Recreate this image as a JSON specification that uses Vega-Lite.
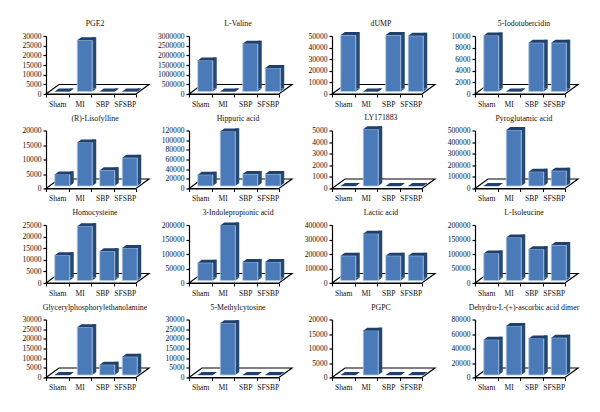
{"$schema":"https://vega.github.io/schema/vega-lite/v6.json","background":"white","padding":{"left":22,"top":20,"right":0,"bottom":0},"bounds":"flush","columns":4,"spacing":{"column":53,"row":36.5},
"config":{"view":{"stroke":null},"font":"Liberation Serif","title":{"font":"Liberation Serif","fontSize":7.8,"fontWeight":"normal","color":"#111111","offset":4,"dx":4},
"axisX":{"title":null,"labelAngle":0,"labelFontSize":7.6,"labelColor":"#111111","labelFont":"Liberation Serif","tickBand":"extent","tickSize":3,"tickColor":"#000000","domainColor":"#000000","labelPadding":3,"labelOverlap":false,"grid":false},
"axisY":{"title":null,"format":"d","labelFontSize":7.6,"labelColor":"#111111","labelFont":"Liberation Serif","tickSize":3,"tickColor":"#000000","domainColor":"#000000","tickWidth":1.2,"domainWidth":1.2,"labelPadding":2,"tickCount":5,"labelOverlap":false,"labelFlush":false,"grid":false}},
"datasets":{"rows":[
{"m":"PGE2","group":"Sham","value":0},{"m":"PGE2","group":"MI","value":26500},{"m":"PGE2","group":"SBP","value":0},{"m":"PGE2","group":"SFSBP","value":0},
{"m":"L-Valine","group":"Sham","value":1600000},{"m":"L-Valine","group":"MI","value":0},{"m":"L-Valine","group":"SBP","value":2470000},{"m":"L-Valine","group":"SFSBP","value":1220000},
{"m":"dUMP","group":"Sham","value":48600},{"m":"dUMP","group":"MI","value":0},{"m":"dUMP","group":"SBP","value":48600},{"m":"dUMP","group":"SFSBP","value":48000},
{"m":"5-Iodotubercidin","group":"Sham","value":9650},{"m":"5-Iodotubercidin","group":"MI","value":0},{"m":"5-Iodotubercidin","group":"SBP","value":8400},{"m":"5-Iodotubercidin","group":"SFSBP","value":8400},
{"m":"(R)-Lisofylline","group":"Sham","value":4000},{"m":"(R)-Lisofylline","group":"MI","value":15000},{"m":"(R)-Lisofylline","group":"SBP","value":5400},{"m":"(R)-Lisofylline","group":"SFSBP","value":9700},
{"m":"Hippuric acid","group":"Sham","value":23300},{"m":"Hippuric acid","group":"MI","value":113000},{"m":"Hippuric acid","group":"SBP","value":24700},{"m":"Hippuric acid","group":"SFSBP","value":24700},
{"m":"LY171883","group":"Sham","value":0},{"m":"LY171883","group":"MI","value":4900},{"m":"LY171883","group":"SBP","value":0},{"m":"LY171883","group":"SFSBP","value":0},
{"m":"Pyroglutamic acid","group":"Sham","value":0},{"m":"Pyroglutamic acid","group":"MI","value":483000},{"m":"Pyroglutamic acid","group":"SBP","value":123000},{"m":"Pyroglutamic acid","group":"SFSBP","value":131000},
{"m":"Homocysteine","group":"Sham","value":10900},{"m":"Homocysteine","group":"MI","value":23400},{"m":"Homocysteine","group":"SBP","value":12600},{"m":"Homocysteine","group":"SFSBP","value":14000},
{"m":"3-Indolepropionic acid","group":"Sham","value":61000},{"m":"3-Indolepropionic acid","group":"MI","value":190000},{"m":"3-Indolepropionic acid","group":"SBP","value":64000},{"m":"3-Indolepropionic acid","group":"SFSBP","value":64000},
{"m":"Lactic acid","group":"Sham","value":170000},{"m":"Lactic acid","group":"MI","value":323000},{"m":"Lactic acid","group":"SBP","value":170000},{"m":"Lactic acid","group":"SFSBP","value":170000},
{"m":"L-Isoleucine","group":"Sham","value":93000},{"m":"L-Isoleucine","group":"MI","value":148000},{"m":"L-Isoleucine","group":"SBP","value":108000},{"m":"L-Isoleucine","group":"SFSBP","value":122000},
{"m":"Glycerylphosphorylethanolamine","group":"Sham","value":0},{"m":"Glycerylphosphorylethanolamine","group":"MI","value":24700},{"m":"Glycerylphosphorylethanolamine","group":"SBP","value":5300},{"m":"Glycerylphosphorylethanolamine","group":"SFSBP","value":9400},
{"m":"5-Methylcytosine","group":"Sham","value":0},{"m":"5-Methylcytosine","group":"MI","value":26800},{"m":"5-Methylcytosine","group":"SBP","value":0},{"m":"5-Methylcytosine","group":"SFSBP","value":0},
{"m":"PGPC","group":"Sham","value":0},{"m":"PGPC","group":"MI","value":15300},{"m":"PGPC","group":"SBP","value":0},{"m":"PGPC","group":"SFSBP","value":0},
{"m":"Dehydro-L-(+)-ascorbic acid dimer","group":"Sham","value":48600},{"m":"Dehydro-L-(+)-ascorbic acid dimer","group":"MI","value":67700},{"m":"Dehydro-L-(+)-ascorbic acid dimer","group":"SBP","value":50400},{"m":"Dehydro-L-(+)-ascorbic acid dimer","group":"SFSBP","value":51400}
]},
"concat":[
{"title":"PGE2","width":90,"height":58,"data":{"name":"rows"},"transform":[{"filter":"datum.m==='PGE2'"}],"encoding":{"x":{"field":"group","type":"nominal","sort":null,"scale":{"type":"band","paddingInner":0,"paddingOuter":0}},"y":{"field":"value","type":"quantitative","scale":{"domain":[0,30000]}}},"layer":[
{"transform":[{"filter":"datum.group==='Sham'"}],"mark":{"type":"point","filled":true,"fill":"#ffffff","stroke":"#000000","strokeWidth":1.2,"opacity":1,"size":4,"shape":"M-11.25,0 L1.75,-9.5 L91.75,-9.5 L78.75,0 Z"},"encoding":{"y":{"datum":0,"type":"quantitative"}}},
{"mark":{"type":"bar","size":4,"color":"#27486f","xOffset":14.5,"yOffset":-5.5,"y2Offset":-5.5}},
{"mark":{"type":"point","filled":true,"color":"#27486f","opacity":1,"size":4,"shape":"M12.5,-2.5 L16.5,-5.5 L12.5,-5.5 Z"},"encoding":{"y":{"datum":0,"type":"quantitative"}}},
{"mark":{"type":"bar","size":15,"color":"#4a7ab8","stroke":"#a9c6ea","strokeWidth":0.8,"xOffset":5,"yOffset":-2.5,"y2Offset":-2.5}},
{"mark":{"type":"point","filled":true,"color":"#1f3f6e","opacity":1,"size":4,"shape":"M-2.5,-2.5 L1.5,-5.5 L16.5,-5.5 L12.5,-2.5 Z"}}
]},
{"title":"L-Valine","width":90,"height":58,"data":{"name":"rows"},"transform":[{"filter":"datum.m==='L-Valine'"}],"encoding":{"x":{"field":"group","type":"nominal","sort":null,"scale":{"type":"band","paddingInner":0,"paddingOuter":0}},"y":{"field":"value","type":"quantitative","scale":{"domain":[0,3000000]}}},"layer":[
{"transform":[{"filter":"datum.group==='Sham'"}],"mark":{"type":"point","filled":true,"fill":"#ffffff","stroke":"#000000","strokeWidth":1.2,"opacity":1,"size":4,"shape":"M-11.25,0 L1.75,-9.5 L91.75,-9.5 L78.75,0 Z"},"encoding":{"y":{"datum":0,"type":"quantitative"}}},
{"mark":{"type":"bar","size":4,"color":"#27486f","xOffset":14.5,"yOffset":-5.5,"y2Offset":-5.5}},
{"mark":{"type":"point","filled":true,"color":"#27486f","opacity":1,"size":4,"shape":"M12.5,-2.5 L16.5,-5.5 L12.5,-5.5 Z"},"encoding":{"y":{"datum":0,"type":"quantitative"}}},
{"mark":{"type":"bar","size":15,"color":"#4a7ab8","stroke":"#a9c6ea","strokeWidth":0.8,"xOffset":5,"yOffset":-2.5,"y2Offset":-2.5}},
{"mark":{"type":"point","filled":true,"color":"#1f3f6e","opacity":1,"size":4,"shape":"M-2.5,-2.5 L1.5,-5.5 L16.5,-5.5 L12.5,-2.5 Z"}}
]},
{"title":"dUMP","width":90,"height":58,"data":{"name":"rows"},"transform":[{"filter":"datum.m==='dUMP'"}],"encoding":{"x":{"field":"group","type":"nominal","sort":null,"scale":{"type":"band","paddingInner":0,"paddingOuter":0}},"y":{"field":"value","type":"quantitative","scale":{"domain":[0,50000]}}},"layer":[
{"transform":[{"filter":"datum.group==='Sham'"}],"mark":{"type":"point","filled":true,"fill":"#ffffff","stroke":"#000000","strokeWidth":1.2,"opacity":1,"size":4,"shape":"M-11.25,0 L1.75,-9.5 L91.75,-9.5 L78.75,0 Z"},"encoding":{"y":{"datum":0,"type":"quantitative"}}},
{"mark":{"type":"bar","size":4,"color":"#27486f","xOffset":14.5,"yOffset":-5.5,"y2Offset":-5.5}},
{"mark":{"type":"point","filled":true,"color":"#27486f","opacity":1,"size":4,"shape":"M12.5,-2.5 L16.5,-5.5 L12.5,-5.5 Z"},"encoding":{"y":{"datum":0,"type":"quantitative"}}},
{"mark":{"type":"bar","size":15,"color":"#4a7ab8","stroke":"#a9c6ea","strokeWidth":0.8,"xOffset":5,"yOffset":-2.5,"y2Offset":-2.5}},
{"mark":{"type":"point","filled":true,"color":"#1f3f6e","opacity":1,"size":4,"shape":"M-2.5,-2.5 L1.5,-5.5 L16.5,-5.5 L12.5,-2.5 Z"}}
]},
{"title":"5-Iodotubercidin","width":90,"height":58,"data":{"name":"rows"},"transform":[{"filter":"datum.m==='5-Iodotubercidin'"}],"encoding":{"x":{"field":"group","type":"nominal","sort":null,"scale":{"type":"band","paddingInner":0,"paddingOuter":0}},"y":{"field":"value","type":"quantitative","scale":{"domain":[0,10000]}}},"layer":[
{"transform":[{"filter":"datum.group==='Sham'"}],"mark":{"type":"point","filled":true,"fill":"#ffffff","stroke":"#000000","strokeWidth":1.2,"opacity":1,"size":4,"shape":"M-11.25,0 L1.75,-9.5 L91.75,-9.5 L78.75,0 Z"},"encoding":{"y":{"datum":0,"type":"quantitative"}}},
{"mark":{"type":"bar","size":4,"color":"#27486f","xOffset":14.5,"yOffset":-5.5,"y2Offset":-5.5}},
{"mark":{"type":"point","filled":true,"color":"#27486f","opacity":1,"size":4,"shape":"M12.5,-2.5 L16.5,-5.5 L12.5,-5.5 Z"},"encoding":{"y":{"datum":0,"type":"quantitative"}}},
{"mark":{"type":"bar","size":15,"color":"#4a7ab8","stroke":"#a9c6ea","strokeWidth":0.8,"xOffset":5,"yOffset":-2.5,"y2Offset":-2.5}},
{"mark":{"type":"point","filled":true,"color":"#1f3f6e","opacity":1,"size":4,"shape":"M-2.5,-2.5 L1.5,-5.5 L16.5,-5.5 L12.5,-2.5 Z"}}
]},
{"title":"(R)-Lisofylline","width":90,"height":58,"data":{"name":"rows"},"transform":[{"filter":"datum.m==='(R)-Lisofylline'"}],"encoding":{"x":{"field":"group","type":"nominal","sort":null,"scale":{"type":"band","paddingInner":0,"paddingOuter":0}},"y":{"field":"value","type":"quantitative","scale":{"domain":[0,20000]}}},"layer":[
{"transform":[{"filter":"datum.group==='Sham'"}],"mark":{"type":"point","filled":true,"fill":"#ffffff","stroke":"#000000","strokeWidth":1.2,"opacity":1,"size":4,"shape":"M-11.25,0 L1.75,-9.5 L91.75,-9.5 L78.75,0 Z"},"encoding":{"y":{"datum":0,"type":"quantitative"}}},
{"mark":{"type":"bar","size":4,"color":"#27486f","xOffset":14.5,"yOffset":-5.5,"y2Offset":-5.5}},
{"mark":{"type":"point","filled":true,"color":"#27486f","opacity":1,"size":4,"shape":"M12.5,-2.5 L16.5,-5.5 L12.5,-5.5 Z"},"encoding":{"y":{"datum":0,"type":"quantitative"}}},
{"mark":{"type":"bar","size":15,"color":"#4a7ab8","stroke":"#a9c6ea","strokeWidth":0.8,"xOffset":5,"yOffset":-2.5,"y2Offset":-2.5}},
{"mark":{"type":"point","filled":true,"color":"#1f3f6e","opacity":1,"size":4,"shape":"M-2.5,-2.5 L1.5,-5.5 L16.5,-5.5 L12.5,-2.5 Z"}}
]},
{"title":"Hippuric acid","width":90,"height":58,"data":{"name":"rows"},"transform":[{"filter":"datum.m==='Hippuric acid'"}],"encoding":{"x":{"field":"group","type":"nominal","sort":null,"scale":{"type":"band","paddingInner":0,"paddingOuter":0}},"y":{"field":"value","type":"quantitative","scale":{"domain":[0,120000]}}},"layer":[
{"transform":[{"filter":"datum.group==='Sham'"}],"mark":{"type":"point","filled":true,"fill":"#ffffff","stroke":"#000000","strokeWidth":1.2,"opacity":1,"size":4,"shape":"M-11.25,0 L1.75,-9.5 L91.75,-9.5 L78.75,0 Z"},"encoding":{"y":{"datum":0,"type":"quantitative"}}},
{"mark":{"type":"bar","size":4,"color":"#27486f","xOffset":14.5,"yOffset":-5.5,"y2Offset":-5.5}},
{"mark":{"type":"point","filled":true,"color":"#27486f","opacity":1,"size":4,"shape":"M12.5,-2.5 L16.5,-5.5 L12.5,-5.5 Z"},"encoding":{"y":{"datum":0,"type":"quantitative"}}},
{"mark":{"type":"bar","size":15,"color":"#4a7ab8","stroke":"#a9c6ea","strokeWidth":0.8,"xOffset":5,"yOffset":-2.5,"y2Offset":-2.5}},
{"mark":{"type":"point","filled":true,"color":"#1f3f6e","opacity":1,"size":4,"shape":"M-2.5,-2.5 L1.5,-5.5 L16.5,-5.5 L12.5,-2.5 Z"}}
]},
{"title":"LY171883","width":90,"height":58,"data":{"name":"rows"},"transform":[{"filter":"datum.m==='LY171883'"}],"encoding":{"x":{"field":"group","type":"nominal","sort":null,"scale":{"type":"band","paddingInner":0,"paddingOuter":0}},"y":{"field":"value","type":"quantitative","scale":{"domain":[0,5000]}}},"layer":[
{"transform":[{"filter":"datum.group==='Sham'"}],"mark":{"type":"point","filled":true,"fill":"#ffffff","stroke":"#000000","strokeWidth":1.2,"opacity":1,"size":4,"shape":"M-11.25,0 L1.75,-9.5 L91.75,-9.5 L78.75,0 Z"},"encoding":{"y":{"datum":0,"type":"quantitative"}}},
{"mark":{"type":"bar","size":4,"color":"#27486f","xOffset":14.5,"yOffset":-5.5,"y2Offset":-5.5}},
{"mark":{"type":"point","filled":true,"color":"#27486f","opacity":1,"size":4,"shape":"M12.5,-2.5 L16.5,-5.5 L12.5,-5.5 Z"},"encoding":{"y":{"datum":0,"type":"quantitative"}}},
{"mark":{"type":"bar","size":15,"color":"#4a7ab8","stroke":"#a9c6ea","strokeWidth":0.8,"xOffset":5,"yOffset":-2.5,"y2Offset":-2.5}},
{"mark":{"type":"point","filled":true,"color":"#1f3f6e","opacity":1,"size":4,"shape":"M-2.5,-2.5 L1.5,-5.5 L16.5,-5.5 L12.5,-2.5 Z"}}
]},
{"title":"Pyroglutamic acid","width":90,"height":58,"data":{"name":"rows"},"transform":[{"filter":"datum.m==='Pyroglutamic acid'"}],"encoding":{"x":{"field":"group","type":"nominal","sort":null,"scale":{"type":"band","paddingInner":0,"paddingOuter":0}},"y":{"field":"value","type":"quantitative","scale":{"domain":[0,500000]}}},"layer":[
{"transform":[{"filter":"datum.group==='Sham'"}],"mark":{"type":"point","filled":true,"fill":"#ffffff","stroke":"#000000","strokeWidth":1.2,"opacity":1,"size":4,"shape":"M-11.25,0 L1.75,-9.5 L91.75,-9.5 L78.75,0 Z"},"encoding":{"y":{"datum":0,"type":"quantitative"}}},
{"mark":{"type":"bar","size":4,"color":"#27486f","xOffset":14.5,"yOffset":-5.5,"y2Offset":-5.5}},
{"mark":{"type":"point","filled":true,"color":"#27486f","opacity":1,"size":4,"shape":"M12.5,-2.5 L16.5,-5.5 L12.5,-5.5 Z"},"encoding":{"y":{"datum":0,"type":"quantitative"}}},
{"mark":{"type":"bar","size":15,"color":"#4a7ab8","stroke":"#a9c6ea","strokeWidth":0.8,"xOffset":5,"yOffset":-2.5,"y2Offset":-2.5}},
{"mark":{"type":"point","filled":true,"color":"#1f3f6e","opacity":1,"size":4,"shape":"M-2.5,-2.5 L1.5,-5.5 L16.5,-5.5 L12.5,-2.5 Z"}}
]},
{"title":"Homocysteine","width":90,"height":58,"data":{"name":"rows"},"transform":[{"filter":"datum.m==='Homocysteine'"}],"encoding":{"x":{"field":"group","type":"nominal","sort":null,"scale":{"type":"band","paddingInner":0,"paddingOuter":0}},"y":{"field":"value","type":"quantitative","scale":{"domain":[0,25000]}}},"layer":[
{"transform":[{"filter":"datum.group==='Sham'"}],"mark":{"type":"point","filled":true,"fill":"#ffffff","stroke":"#000000","strokeWidth":1.2,"opacity":1,"size":4,"shape":"M-11.25,0 L1.75,-9.5 L91.75,-9.5 L78.75,0 Z"},"encoding":{"y":{"datum":0,"type":"quantitative"}}},
{"mark":{"type":"bar","size":4,"color":"#27486f","xOffset":14.5,"yOffset":-5.5,"y2Offset":-5.5}},
{"mark":{"type":"point","filled":true,"color":"#27486f","opacity":1,"size":4,"shape":"M12.5,-2.5 L16.5,-5.5 L12.5,-5.5 Z"},"encoding":{"y":{"datum":0,"type":"quantitative"}}},
{"mark":{"type":"bar","size":15,"color":"#4a7ab8","stroke":"#a9c6ea","strokeWidth":0.8,"xOffset":5,"yOffset":-2.5,"y2Offset":-2.5}},
{"mark":{"type":"point","filled":true,"color":"#1f3f6e","opacity":1,"size":4,"shape":"M-2.5,-2.5 L1.5,-5.5 L16.5,-5.5 L12.5,-2.5 Z"}}
]},
{"title":"3-Indolepropionic acid","width":90,"height":58,"data":{"name":"rows"},"transform":[{"filter":"datum.m==='3-Indolepropionic acid'"}],"encoding":{"x":{"field":"group","type":"nominal","sort":null,"scale":{"type":"band","paddingInner":0,"paddingOuter":0}},"y":{"field":"value","type":"quantitative","scale":{"domain":[0,200000]}}},"layer":[
{"transform":[{"filter":"datum.group==='Sham'"}],"mark":{"type":"point","filled":true,"fill":"#ffffff","stroke":"#000000","strokeWidth":1.2,"opacity":1,"size":4,"shape":"M-11.25,0 L1.75,-9.5 L91.75,-9.5 L78.75,0 Z"},"encoding":{"y":{"datum":0,"type":"quantitative"}}},
{"mark":{"type":"bar","size":4,"color":"#27486f","xOffset":14.5,"yOffset":-5.5,"y2Offset":-5.5}},
{"mark":{"type":"point","filled":true,"color":"#27486f","opacity":1,"size":4,"shape":"M12.5,-2.5 L16.5,-5.5 L12.5,-5.5 Z"},"encoding":{"y":{"datum":0,"type":"quantitative"}}},
{"mark":{"type":"bar","size":15,"color":"#4a7ab8","stroke":"#a9c6ea","strokeWidth":0.8,"xOffset":5,"yOffset":-2.5,"y2Offset":-2.5}},
{"mark":{"type":"point","filled":true,"color":"#1f3f6e","opacity":1,"size":4,"shape":"M-2.5,-2.5 L1.5,-5.5 L16.5,-5.5 L12.5,-2.5 Z"}}
]},
{"title":"Lactic acid","width":90,"height":58,"data":{"name":"rows"},"transform":[{"filter":"datum.m==='Lactic acid'"}],"encoding":{"x":{"field":"group","type":"nominal","sort":null,"scale":{"type":"band","paddingInner":0,"paddingOuter":0}},"y":{"field":"value","type":"quantitative","scale":{"domain":[0,400000]}}},"layer":[
{"transform":[{"filter":"datum.group==='Sham'"}],"mark":{"type":"point","filled":true,"fill":"#ffffff","stroke":"#000000","strokeWidth":1.2,"opacity":1,"size":4,"shape":"M-11.25,0 L1.75,-9.5 L91.75,-9.5 L78.75,0 Z"},"encoding":{"y":{"datum":0,"type":"quantitative"}}},
{"mark":{"type":"bar","size":4,"color":"#27486f","xOffset":14.5,"yOffset":-5.5,"y2Offset":-5.5}},
{"mark":{"type":"point","filled":true,"color":"#27486f","opacity":1,"size":4,"shape":"M12.5,-2.5 L16.5,-5.5 L12.5,-5.5 Z"},"encoding":{"y":{"datum":0,"type":"quantitative"}}},
{"mark":{"type":"bar","size":15,"color":"#4a7ab8","stroke":"#a9c6ea","strokeWidth":0.8,"xOffset":5,"yOffset":-2.5,"y2Offset":-2.5}},
{"mark":{"type":"point","filled":true,"color":"#1f3f6e","opacity":1,"size":4,"shape":"M-2.5,-2.5 L1.5,-5.5 L16.5,-5.5 L12.5,-2.5 Z"}}
]},
{"title":"L-Isoleucine","width":90,"height":58,"data":{"name":"rows"},"transform":[{"filter":"datum.m==='L-Isoleucine'"}],"encoding":{"x":{"field":"group","type":"nominal","sort":null,"scale":{"type":"band","paddingInner":0,"paddingOuter":0}},"y":{"field":"value","type":"quantitative","scale":{"domain":[0,200000]}}},"layer":[
{"transform":[{"filter":"datum.group==='Sham'"}],"mark":{"type":"point","filled":true,"fill":"#ffffff","stroke":"#000000","strokeWidth":1.2,"opacity":1,"size":4,"shape":"M-11.25,0 L1.75,-9.5 L91.75,-9.5 L78.75,0 Z"},"encoding":{"y":{"datum":0,"type":"quantitative"}}},
{"mark":{"type":"bar","size":4,"color":"#27486f","xOffset":14.5,"yOffset":-5.5,"y2Offset":-5.5}},
{"mark":{"type":"point","filled":true,"color":"#27486f","opacity":1,"size":4,"shape":"M12.5,-2.5 L16.5,-5.5 L12.5,-5.5 Z"},"encoding":{"y":{"datum":0,"type":"quantitative"}}},
{"mark":{"type":"bar","size":15,"color":"#4a7ab8","stroke":"#a9c6ea","strokeWidth":0.8,"xOffset":5,"yOffset":-2.5,"y2Offset":-2.5}},
{"mark":{"type":"point","filled":true,"color":"#1f3f6e","opacity":1,"size":4,"shape":"M-2.5,-2.5 L1.5,-5.5 L16.5,-5.5 L12.5,-2.5 Z"}}
]},
{"title":"Glycerylphosphorylethanolamine","width":90,"height":58,"data":{"name":"rows"},"transform":[{"filter":"datum.m==='Glycerylphosphorylethanolamine'"}],"encoding":{"x":{"field":"group","type":"nominal","sort":null,"scale":{"type":"band","paddingInner":0,"paddingOuter":0}},"y":{"field":"value","type":"quantitative","scale":{"domain":[0,30000]}}},"layer":[
{"transform":[{"filter":"datum.group==='Sham'"}],"mark":{"type":"point","filled":true,"fill":"#ffffff","stroke":"#000000","strokeWidth":1.2,"opacity":1,"size":4,"shape":"M-11.25,0 L1.75,-9.5 L91.75,-9.5 L78.75,0 Z"},"encoding":{"y":{"datum":0,"type":"quantitative"}}},
{"mark":{"type":"bar","size":4,"color":"#27486f","xOffset":14.5,"yOffset":-5.5,"y2Offset":-5.5}},
{"mark":{"type":"point","filled":true,"color":"#27486f","opacity":1,"size":4,"shape":"M12.5,-2.5 L16.5,-5.5 L12.5,-5.5 Z"},"encoding":{"y":{"datum":0,"type":"quantitative"}}},
{"mark":{"type":"bar","size":15,"color":"#4a7ab8","stroke":"#a9c6ea","strokeWidth":0.8,"xOffset":5,"yOffset":-2.5,"y2Offset":-2.5}},
{"mark":{"type":"point","filled":true,"color":"#1f3f6e","opacity":1,"size":4,"shape":"M-2.5,-2.5 L1.5,-5.5 L16.5,-5.5 L12.5,-2.5 Z"}}
]},
{"title":"5-Methylcytosine","width":90,"height":58,"data":{"name":"rows"},"transform":[{"filter":"datum.m==='5-Methylcytosine'"}],"encoding":{"x":{"field":"group","type":"nominal","sort":null,"scale":{"type":"band","paddingInner":0,"paddingOuter":0}},"y":{"field":"value","type":"quantitative","scale":{"domain":[0,30000]}}},"layer":[
{"transform":[{"filter":"datum.group==='Sham'"}],"mark":{"type":"point","filled":true,"fill":"#ffffff","stroke":"#000000","strokeWidth":1.2,"opacity":1,"size":4,"shape":"M-11.25,0 L1.75,-9.5 L91.75,-9.5 L78.75,0 Z"},"encoding":{"y":{"datum":0,"type":"quantitative"}}},
{"mark":{"type":"bar","size":4,"color":"#27486f","xOffset":14.5,"yOffset":-5.5,"y2Offset":-5.5}},
{"mark":{"type":"point","filled":true,"color":"#27486f","opacity":1,"size":4,"shape":"M12.5,-2.5 L16.5,-5.5 L12.5,-5.5 Z"},"encoding":{"y":{"datum":0,"type":"quantitative"}}},
{"mark":{"type":"bar","size":15,"color":"#4a7ab8","stroke":"#a9c6ea","strokeWidth":0.8,"xOffset":5,"yOffset":-2.5,"y2Offset":-2.5}},
{"mark":{"type":"point","filled":true,"color":"#1f3f6e","opacity":1,"size":4,"shape":"M-2.5,-2.5 L1.5,-5.5 L16.5,-5.5 L12.5,-2.5 Z"}}
]},
{"title":"PGPC","width":90,"height":58,"data":{"name":"rows"},"transform":[{"filter":"datum.m==='PGPC'"}],"encoding":{"x":{"field":"group","type":"nominal","sort":null,"scale":{"type":"band","paddingInner":0,"paddingOuter":0}},"y":{"field":"value","type":"quantitative","scale":{"domain":[0,20000]}}},"layer":[
{"transform":[{"filter":"datum.group==='Sham'"}],"mark":{"type":"point","filled":true,"fill":"#ffffff","stroke":"#000000","strokeWidth":1.2,"opacity":1,"size":4,"shape":"M-11.25,0 L1.75,-9.5 L91.75,-9.5 L78.75,0 Z"},"encoding":{"y":{"datum":0,"type":"quantitative"}}},
{"mark":{"type":"bar","size":4,"color":"#27486f","xOffset":14.5,"yOffset":-5.5,"y2Offset":-5.5}},
{"mark":{"type":"point","filled":true,"color":"#27486f","opacity":1,"size":4,"shape":"M12.5,-2.5 L16.5,-5.5 L12.5,-5.5 Z"},"encoding":{"y":{"datum":0,"type":"quantitative"}}},
{"mark":{"type":"bar","size":15,"color":"#4a7ab8","stroke":"#a9c6ea","strokeWidth":0.8,"xOffset":5,"yOffset":-2.5,"y2Offset":-2.5}},
{"mark":{"type":"point","filled":true,"color":"#1f3f6e","opacity":1,"size":4,"shape":"M-2.5,-2.5 L1.5,-5.5 L16.5,-5.5 L12.5,-2.5 Z"}}
]},
{"title":"Dehydro-L-(+)-ascorbic acid dimer","width":90,"height":58,"data":{"name":"rows"},"transform":[{"filter":"datum.m==='Dehydro-L-(+)-ascorbic acid dimer'"}],"encoding":{"x":{"field":"group","type":"nominal","sort":null,"scale":{"type":"band","paddingInner":0,"paddingOuter":0}},"y":{"field":"value","type":"quantitative","scale":{"domain":[0,80000]}}},"layer":[
{"transform":[{"filter":"datum.group==='Sham'"}],"mark":{"type":"point","filled":true,"fill":"#ffffff","stroke":"#000000","strokeWidth":1.2,"opacity":1,"size":4,"shape":"M-11.25,0 L1.75,-9.5 L91.75,-9.5 L78.75,0 Z"},"encoding":{"y":{"datum":0,"type":"quantitative"}}},
{"mark":{"type":"bar","size":4,"color":"#27486f","xOffset":14.5,"yOffset":-5.5,"y2Offset":-5.5}},
{"mark":{"type":"point","filled":true,"color":"#27486f","opacity":1,"size":4,"shape":"M12.5,-2.5 L16.5,-5.5 L12.5,-5.5 Z"},"encoding":{"y":{"datum":0,"type":"quantitative"}}},
{"mark":{"type":"bar","size":15,"color":"#4a7ab8","stroke":"#a9c6ea","strokeWidth":0.8,"xOffset":5,"yOffset":-2.5,"y2Offset":-2.5}},
{"mark":{"type":"point","filled":true,"color":"#1f3f6e","opacity":1,"size":4,"shape":"M-2.5,-2.5 L1.5,-5.5 L16.5,-5.5 L12.5,-2.5 Z"}}
]}
]}
